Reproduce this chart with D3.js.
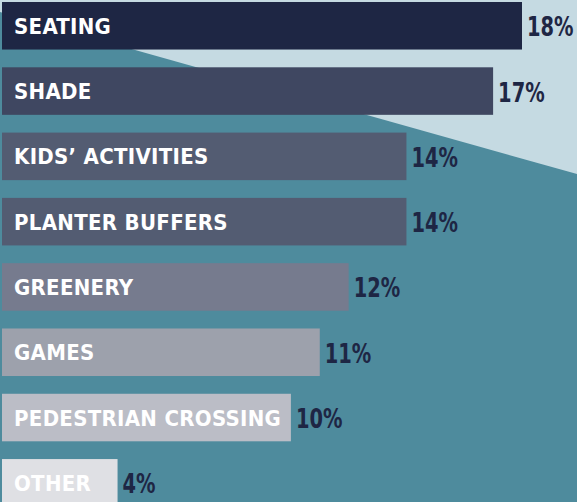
<!DOCTYPE html>
<html>
<head>
<meta charset="utf-8">
<script src="https://cdn.jsdelivr.net/npm/d3@7"></script>
<style>
  html, body { margin: 0; padding: 0; background: #4e8b9d; overflow: hidden; }
  text { font-family: 'DejaVu Sans Condensed', 'DejaVu Sans', sans-serif; font-weight: bold; }
</style>
</head>
<body>
<script>
const categories = ['SEATING', 'SHADE', 'KIDS\u2019 ACTIVITIES', 'PLANTER BUFFERS', 'GREENERY', 'GAMES', 'PEDESTRIAN CROSSING', 'OTHER']
const values = [18, 17, 14, 14, 12, 11, 10, 4]
const barColors = ['#1e2644', '#3f4761', '#535c72', '#535c72', '#767b8e', '#9da1ac', '#bbbdc6', '#dfe0e4']

const w = 577
const h = 502

const svg = d3.select('body').append('svg')
  .attr('width', w)
  .attr('height', h)

// background with the light diagonal wedge in the upper right
svg.append('rect').attr('width', w).attr('height', h).attr('fill', '#4e8b9d')
svg.append('polygon')
  .attr('points', [[0, 0], [w, 0], [w, 174], [0, 12]].map(p => p.join(',')).join(' '))
  .attr('fill', '#c5dae2')

const x = d3.scaleLinear().domain([0, 18]).range([2, 522])
const y = d3.scaleBand().domain(categories).range([2, 506.6]).paddingInner(0.272)

const rows = svg.selectAll('g.row')
  .data(categories.map((c, i) => ({ cat: c, val: values[i], color: barColors[i] })))
  .enter().append('g')
  .attr('class', 'row')

rows.append('rect')
  .attr('x', x(0))
  .attr('y', d => y(d.cat))
  .attr('width', d => x(d.val) - x(0))
  .attr('height', y.bandwidth())
  .attr('fill', d => d.color)

rows.append('text')
  .attr('x', 14)
  .attr('y', d => y(d.cat) + y.bandwidth() / 2 + 8)
  .attr('fill', '#ffffff')
  .style('font-size', '22px')
  .style('letter-spacing', '0.3px')
  .text(d => d.cat)

// squeeze the percentages horizontally for the condensed look
rows.append('text')
  .attr('transform', d => 'translate(' + (x(d.val) + 5) + ',' + (y(d.cat) + y.bandwidth() / 2 + 10.5) + ') scale(0.8,1)')
  .attr('fill', '#1e2644')
  .style('font-size', '27px')
  .text(d => d.val + '%')
</script>
</body>
</html>
